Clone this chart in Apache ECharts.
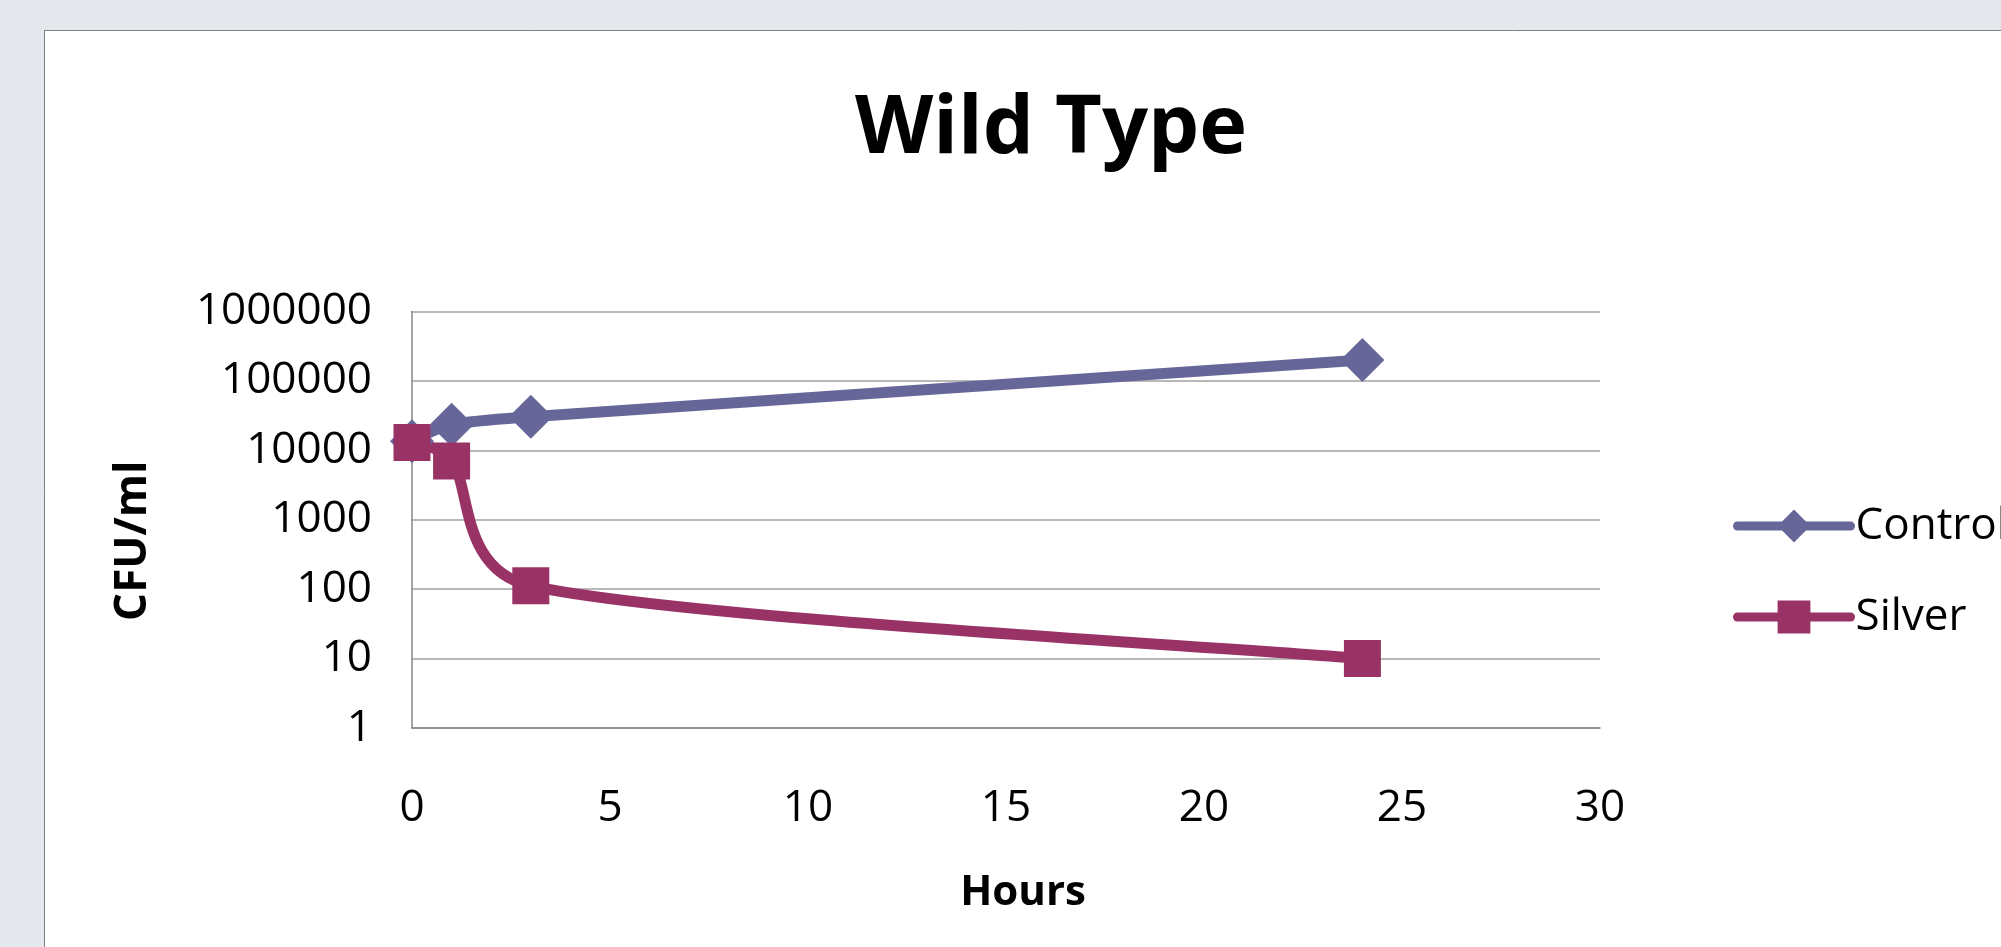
<!DOCTYPE html>
<html>
<head>
<meta charset="utf-8">
<script src="https://cdn.jsdelivr.net/npm/echarts@6/dist/echarts.min.js"></script>
<style>
html,body{margin:0;padding:0;background:#e4e7eb;overflow:hidden;}
#chart{width:2001px;height:947px;}
</style>
</head>
<body>
<div id="chart"></div>
<script>
const hours = [0, 1, 3, 24];
const controlValues = [13500, 23300, 30400, 200000];
const silverValues = [13000, 7000, 112, 10];
const seriesNames = ['Control', 'Silver'];
const titleText = 'Wild Type';
const xName = 'Hours';
const yName = 'CFU/ml';

const controlColor = '#666699';
const silverColor = '#993366';
const curveWidth = 11;
const chart = echarts.init(document.getElementById('chart'), null, {renderer: 'canvas'});
const font = '"Open Sans", "Liberation Sans", sans-serif';

// Excel-style smoothed segment (Bezier, tension 1/6, limited to half segment length)
function excelSegment(xs, ys, color) {
  return function (params, api) {
    const i = params.dataIndex;
    const n = xs.length;
    if (i >= n - 1) return null;
    const P = j => { const k = Math.max(0, Math.min(n - 1, j)); return api.coord([xs[k], ys[k]]); };
    const p0 = P(i - 1), p1 = P(i), p2 = P(i + 1), p3 = P(i + 2);
    const d = (a, b) => Math.hypot(a[0] - b[0], a[1] - b[1]);
    const d12 = d(p1, p2), d02 = d(p0, p2), d13 = d(p1, p3);
    let f0 = 1 / 6, f3 = 1 / 6;
    if (d02 / 6 >= d12 / 2) f0 = d02 > 0 ? d12 / d02 / 2 : 0;
    if (d13 / 6 >= d12 / 2) f3 = d13 > 0 ? d12 / d13 / 2 : 0;
    return {
      type: 'bezierCurve',
      shape: {
        x1: p1[0], y1: p1[1], x2: p2[0], y2: p2[1],
        cpx1: p1[0] + f0 * (p2[0] - p0[0]), cpy1: p1[1] + f0 * (p2[1] - p0[1]),
        cpx2: p2[0] - f3 * (p3[0] - p1[0]), cpy2: p2[1] - f3 * (p3[1] - p1[1])
      },
      style: {stroke: color, lineWidth: curveWidth, fill: null, lineCap: 'round'}
    };
  };
}

const controlData = hours.map((h, i) => [h, controlValues[i]]);
const silverData = hours.map((h, i) => [h, silverValues[i]]);

const option = {
  backgroundColor: '#e4e7eb',
  animation: false,
  graphic: [
    {type: 'rect', z: -10, silent: true,
     shape: {x: 44.5, y: 30.5, width: 3000, height: 3000},
     style: {fill: '#ffffff', stroke: '#7f7f7f', lineWidth: 1}}
  ],
  title: {
    text: titleText,
    left: 1046, top: 84,
    textAlign: 'center',
    textStyle: {fontFamily: font, fontWeight: 'bold', fontSize: 81, color: '#000'}
  },
  grid: {left: 412, top: 311.5, right: 401, bottom: 219, containLabel: false},
  xAxis: {
    type: 'value', min: 0, max: 30, interval: 5,
    name: xName, nameLocation: 'middle', nameGap: 144,
    nameTextStyle: {fontFamily: font, fontWeight: 'bold', fontSize: 42, color: '#000', padding: [0, 0, 0, 34]},
    axisLine: {show: true, lineStyle: {color: '#868686', width: 1.5}},
    axisTick: {show: false},
    splitLine: {show: false},
    axisLabel: {fontFamily: font, fontSize: 44, color: '#000', margin: 58}
  },
  yAxis: {
    type: 'log', logBase: 10, min: 1, max: 1000000,
    name: yName, nameLocation: 'middle', nameGap: 257, nameRotate: 90,
    nameTextStyle: {fontFamily: font, fontWeight: 'bold', fontSize: 44, color: '#000', padding: [0, 42, 0, 0]},
    axisLine: {show: true, lineStyle: {color: '#868686', width: 1.5}},
    axisTick: {show: false},
    splitLine: {show: true, lineStyle: {color: '#a0a0a0', width: 1.5}},
    axisLabel: {fontFamily: font, fontSize: 44, color: '#000', margin: 40,
      formatter: v => String(Math.round(v))}
  },
  legend: {
    orient: 'vertical', left: 1728, top: 499,
    itemWidth: 113, itemHeight: 41, itemGap: 47,
    textStyle: {fontFamily: font, fontSize: 44, color: '#000'},
    lineStyle: {width: 9, cap: 'round', opacity: 1},
    data: seriesNames
  },
  series: [
    {
      name: seriesNames[0], type: 'line', z: 3,
      data: controlData,
      symbol: 'diamond', symbolSize: 44,
      lineStyle: {color: controlColor, width: curveWidth, opacity: 0},
      itemStyle: {color: controlColor}
    },
    {
      name: seriesNames[1], type: 'line', z: 3,
      data: silverData,
      symbol: 'rect', symbolSize: 37,
      lineStyle: {color: silverColor, width: curveWidth, opacity: 0},
      itemStyle: {color: silverColor}
    },
    {
      name: seriesNames[0], type: 'custom', z: 2, silent: true,
      data: controlData, encode: {x: 0, y: 1},
      renderItem: excelSegment(hours, controlValues, controlColor)
    },
    {
      name: seriesNames[1], type: 'custom', z: 2, silent: true,
      data: silverData, encode: {x: 0, y: 1},
      renderItem: excelSegment(hours, silverValues, silverColor)
    }
  ]
};
chart.setOption(option);
</script>
</body>
</html>
